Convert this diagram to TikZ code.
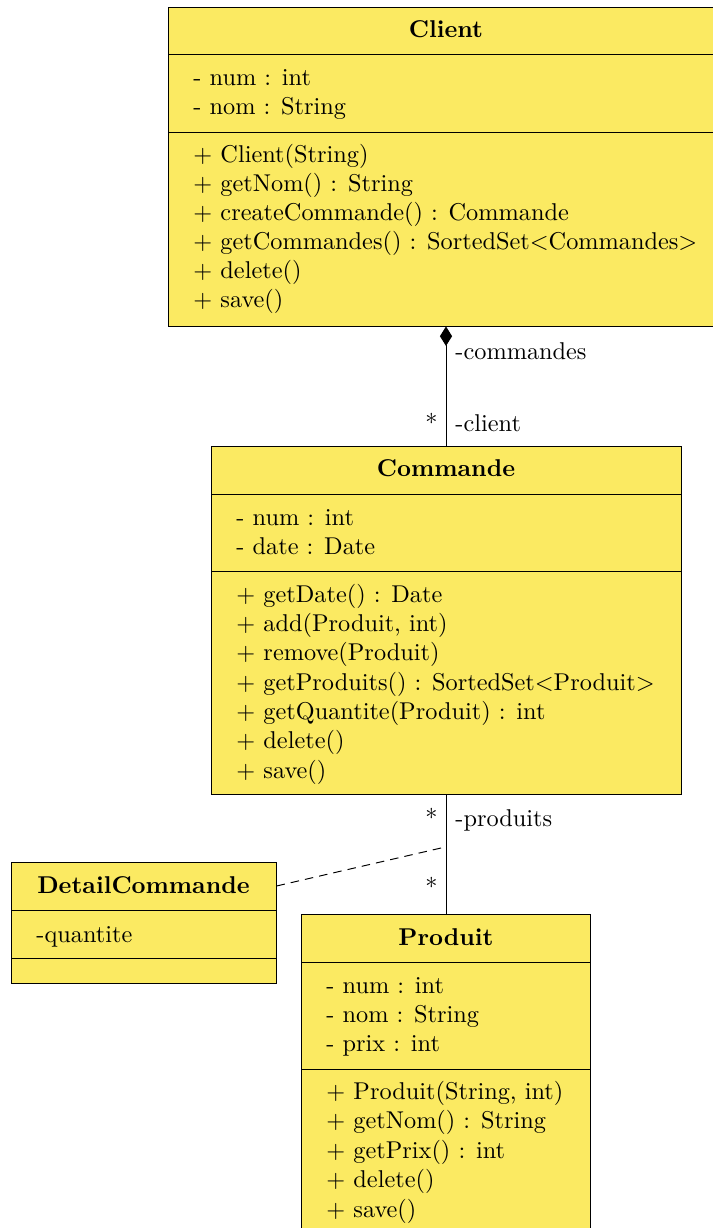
\documentclass[tikz,border=0pt]{standalone}
\usetikzlibrary{arrows.meta,fit}
\definecolor{classfill}{RGB}{251,234,98}
\tikzset{
  part/.style={draw, fill=classfill, line width=0.4pt, inner sep=0pt},
  ttl/.style={anchor=base, inner sep=0pt, font=\bfseries},
  txt/.style={anchor=base west, inner sep=0pt},
  role/.style={anchor=base west, inner sep=0pt},
  mult/.style={anchor=base east, inner sep=0pt},
  assoc/.style={line width=0.4pt},
  assocclass/.style={line width=0.4pt, dash pattern=on 3.5pt off 2.5pt},
}
\begin{document}
\begin{tikzpicture}[x=0.4115pt, y=-0.4115pt]
\useasboundingbox (0,0) rectangle (713,1228);
\clip (0,0) rectangle (713,1228);

% ---- Client ----
\node[part, fit={(168,7) (724,54)}] (client-title) {};
\node[part, fit={(168,54) (724,132)}] (client-attrs) {};
\node[part, fit={(168,132) (724,326)}] (client-ops) {};
\node[ttl] (client-name) at (446,38) {Client};
\node[txt] (client-a1) at (193,85.5) {- num : int};
\node[txt] (client-a2) at (193,114.5) {- nom : String};
\node[txt] (client-o1) at (193,163) {$+$ Client(String)};
\node[txt] (client-o2) at (193,192) {$+$ getNom() : String};
\node[txt] (client-o3) at (193,221) {$+$ createCommande() : Commande};
\node[txt] (client-o4) at (193,250) {$+$ getCommandes() : SortedSet$<$Commandes$>$};
\node[txt] (client-o5) at (193,279) {$+$ delete()};
\node[txt] (client-o6) at (193,308) {$+$ save()};

% ---- Commande ----
\node[part, fit={(211,446) (681,494)}] (commande-title) {};
\node[part, fit={(211,494) (681,571)}] (commande-attrs) {};
\node[part, fit={(211,571) (681,794)}] (commande-ops) {};
\node[ttl] (commande-name) at (446,476) {Commande};
\node[txt] (commande-a1) at (236,525) {- num : int};
\node[txt] (commande-a2) at (236,554) {- date : Date};
\node[txt] (commande-o1) at (236,602) {$+$ getDate() : Date};
\node[txt] (commande-o2) at (236,631) {$+$ add(Produit, int)};
\node[txt] (commande-o3) at (236,660) {$+$ remove(Produit)};
\node[txt] (commande-o4) at (236,690) {$+$ getProduits() : SortedSet$<$Produit$>$};
\node[txt] (commande-o5) at (236,719) {$+$ getQuantite(Produit) : int};
\node[txt] (commande-o6) at (236,748) {$+$ delete()};
\node[txt] (commande-o7) at (236,778) {$+$ save()};

% ---- DetailCommande (association class) ----
\node[part, fit={(11,862) (276,910)}] (detail-title) {};
\node[part, fit={(11,910) (276,958)}] (detail-attrs) {};
\node[part, fit={(11,958) (276,983)}] (detail-ops) {};
\node[ttl] (detail-name) at (143.5,893) {DetailCommande};
\node[txt] (detail-a1) at (36,942) {-quantite};

% ---- Produit ----
\node[part, fit={(301.5,914) (590.5,962)}] (produit-title) {};
\node[part, fit={(301.5,962) (590.5,1069)}] (produit-attrs) {};
\node[part, fit={(301.5,1069) (590.5,1240)}] (produit-ops) {};
\node[ttl] (produit-name) at (446,945) {Produit};
\node[txt] (produit-a1) at (326,993) {- num : int};
\node[txt] (produit-a2) at (326,1022) {- nom : String};
\node[txt] (produit-a3) at (326,1051) {- prix : int};
\node[txt] (produit-o1) at (326,1099) {$+$ Produit(String, int)};
\node[txt] (produit-o2) at (326,1128) {$+$ getNom() : String};
\node[txt] (produit-o3) at (326,1158) {$+$ getPrix() : int};
\node[txt] (produit-o4) at (326,1187) {$+$ delete()};
\node[txt] (produit-o5) at (326,1217) {$+$ save()};

% ---- Client <>-- Commande (composition) ----
\draw[assoc, {Diamond[length=8pt, width=5pt]}-] (client-ops.south) -- (commande-title.north);
\node[role] (role-commandes) at (455,360) {-commandes};
\node[role] (role-client) at (455,431) {-client};
\node[mult] (mult-commandes) at (438,431) {*};

% ---- Commande -- Produit ----
\draw[assoc] (commande-ops.south) -- (produit-title.north);
\node[role] (role-produits) at (455,826) {-produits};
\node[mult] (mult-top) at (438,826) {*};
\node[mult] (mult-bottom) at (438,895) {*};

% ---- association class link ----
\coordinate (assoc-link) at (441,848);
\draw[assocclass] (detail-title.east) -- (assoc-link);
\end{tikzpicture}
\end{document}
